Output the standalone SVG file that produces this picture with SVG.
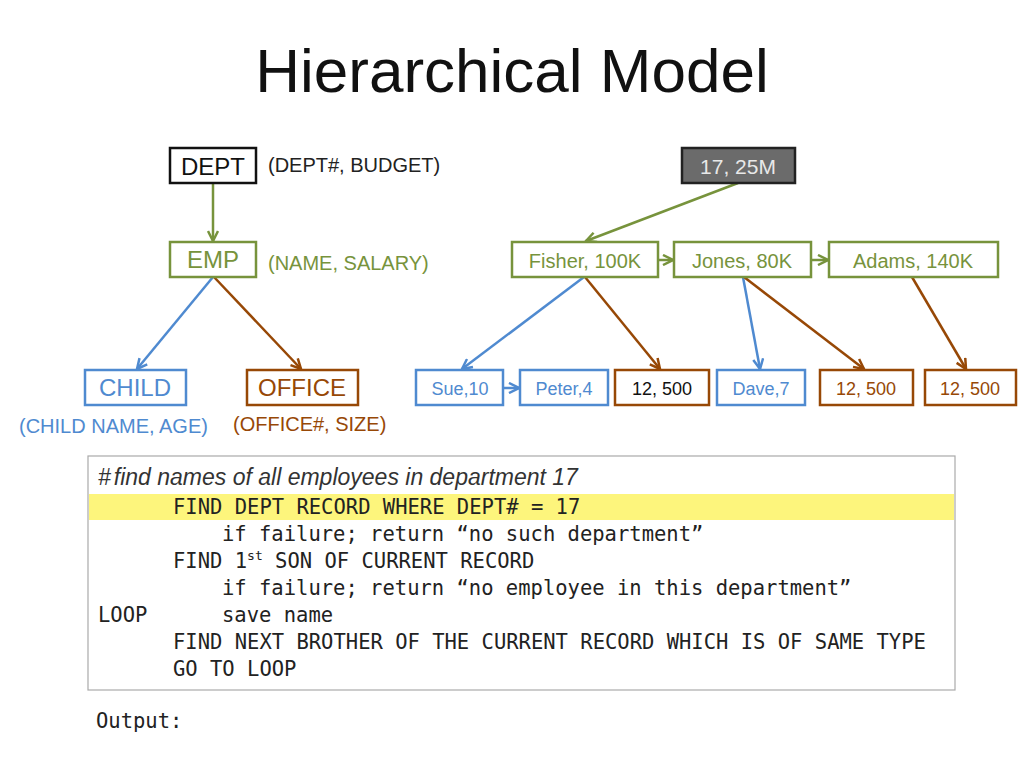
<svg xmlns="http://www.w3.org/2000/svg" width="1024" height="768" viewBox="0 0 1024 768">
<defs>
<style>
text{font-family:"Liberation Sans",Arial,sans-serif}
.g{stroke:#77933c;fill:none;stroke-width:2.5}
.b{stroke:#4f8ad0;fill:none;stroke-width:2.5}
.r{stroke:#974806;fill:none;stroke-width:2.5}
.box{fill:#fff;stroke-width:2.5}
.gt{fill:#77933c}.bt{fill:#4f8ad0}.rt{fill:#974806}
.m{font-family:"DejaVu Sans Mono",monospace;font-size:20.5px;fill:#222}
</style>
<marker id="ag" viewBox="0 0 10 10" refX="9" refY="5" markerWidth="5" markerHeight="5" orient="auto"><path d="M1,1 L9,5 L1,9" fill="none" stroke="#77933c" stroke-width="2"/></marker>
<marker id="ab" viewBox="0 0 10 10" refX="9" refY="5" markerWidth="5" markerHeight="5" orient="auto"><path d="M1,1 L9,5 L1,9" fill="none" stroke="#4f8ad0" stroke-width="2"/></marker>
<marker id="ar" viewBox="0 0 10 10" refX="9" refY="5" markerWidth="5" markerHeight="5" orient="auto"><path d="M1,1 L9,5 L1,9" fill="none" stroke="#974806" stroke-width="2"/></marker>
</defs>
<rect width="1024" height="768" fill="#fff"/>
<text x="512" y="92" text-anchor="middle" font-size="62" fill="#111">Hierarchical Model</text>

<g id="connectors">
<line class="g" x1="213" y1="183" x2="213" y2="241" marker-end="url(#ag)"/>
<line class="b" x1="213" y1="277" x2="137" y2="369" marker-end="url(#ab)"/>
<line class="r" x1="214" y1="277" x2="301" y2="369" marker-end="url(#ar)"/>
<line class="g" x1="738" y1="183" x2="586" y2="241" marker-end="url(#ag)"/>
<line class="g" x1="658" y1="260" x2="673" y2="260" marker-end="url(#ag)"/>
<line class="g" x1="811" y1="260" x2="828" y2="260" marker-end="url(#ag)"/>
<line class="b" x1="584" y1="277" x2="462" y2="369" marker-end="url(#ab)"/>
<line class="r" x1="585" y1="277" x2="660" y2="369" marker-end="url(#ar)"/>
<line class="b" x1="743" y1="277" x2="760" y2="369" marker-end="url(#ab)"/>
<line class="r" x1="744" y1="277" x2="864" y2="369" marker-end="url(#ar)"/>
<line class="r" x1="912" y1="277" x2="966" y2="369" marker-end="url(#ar)"/>
<line class="b" x1="503" y1="388" x2="519" y2="388" marker-end="url(#ab)"/>
</g>

<g id="dept"><rect class="box" x="170" y="148" width="86" height="35" stroke="#111"/><text x="213" y="175" text-anchor="middle" font-size="24" fill="#111">DEPT</text></g>
<text x="268" y="172" font-size="20" fill="#222">(DEPT#, BUDGET)</text>
<g id="emp"><rect class="box" x="170" y="242" width="86" height="35" stroke="#77933c"/><text x="213" y="268" text-anchor="middle" font-size="24" class="gt">EMP</text></g>
<text x="268" y="270" font-size="20" class="gt">(NAME, SALARY)</text>
<g id="child"><rect class="box" x="85" y="370" width="101" height="35" stroke="#4f8ad0"/><text x="135" y="396" text-anchor="middle" font-size="24" class="bt">CHILD</text></g>
<text x="19" y="433" font-size="20" class="bt">(CHILD NAME, AGE)</text>
<g id="office"><rect class="box" x="247" y="370" width="111" height="35" stroke="#974806"/><text x="302" y="396" text-anchor="middle" font-size="24" class="rt">OFFICE</text></g>
<text x="233" y="431" font-size="20" class="rt">(OFFICE#, SIZE)</text>

<g id="d17"><rect x="682" y="148" width="113" height="35" fill="#6b6b6b" stroke="#222" stroke-width="2.5"/><text x="738" y="174" text-anchor="middle" font-size="21" fill="#e8e8e8">17, 25M</text></g>
<g id="fisher"><rect class="box" x="512" y="242" width="146" height="35" stroke="#77933c"/><text x="585" y="268" text-anchor="middle" font-size="20" class="gt">Fisher, 100K</text></g>
<g id="jones"><rect class="box" x="674" y="242" width="137" height="35" stroke="#77933c"/><text x="742" y="268" text-anchor="middle" font-size="20" class="gt">Jones, 80K</text></g>
<g id="adams"><rect class="box" x="829" y="242" width="169" height="35" stroke="#77933c"/><text x="913" y="268" text-anchor="middle" font-size="20" class="gt">Adams, 140K</text></g>
<g id="sue"><rect class="box" x="416" y="370" width="87" height="35" stroke="#4f8ad0"/><text x="460" y="395" text-anchor="middle" font-size="18" class="bt">Sue,10</text></g>
<g id="peter"><rect class="box" x="520" y="370" width="88" height="35" stroke="#4f8ad0"/><text x="564" y="395" text-anchor="middle" font-size="18" class="bt">Peter,4</text></g>
<g id="o1"><rect class="box" x="615" y="370" width="94" height="35" stroke="#974806"/><text x="662" y="395" text-anchor="middle" font-size="18" fill="#111">12, 500</text></g>
<g id="dave"><rect class="box" x="717" y="370" width="88" height="35" stroke="#4f8ad0"/><text x="761" y="395" text-anchor="middle" font-size="18" class="bt">Dave,7</text></g>
<g id="o2"><rect class="box" x="820" y="370" width="93" height="35" stroke="#974806"/><text x="866" y="395" text-anchor="middle" font-size="18" class="rt">12, 500</text></g>
<g id="o3"><rect class="box" x="925" y="370" width="91" height="35" stroke="#974806"/><text x="970" y="395" text-anchor="middle" font-size="18" class="rt">12, 500</text></g>

<g id="code">
<rect x="88" y="456" width="867" height="234" fill="#fff" stroke="#aaa" stroke-width="1.2"/>
<rect x="89" y="494" width="865" height="26" fill="#fdf57c"/>
<text x="98" y="485" font-family="Liberation Serif,serif" font-style="italic" font-size="23" fill="#333">#<tspan dx="3">find names of all employees in department 17</tspan></text>
<text class="m" x="173" y="514">FIND DEPT RECORD WHERE DEPT# = 17</text>
<text class="m" x="222" y="541">if failure; return “no such department”</text>
<text class="m" x="173" y="568">FIND 1<tspan font-size="13" dy="-8">st</tspan><tspan dy="8"> SON OF CURRENT RECORD</tspan></text>
<text class="m" x="222" y="595">if failure; return “no employee in this department”</text>
<text class="m" x="98" y="622">LOOP</text>
<text class="m" x="222" y="622">save name</text>
<text class="m" x="173" y="649">FIND NEXT BROTHER OF THE CURRENT RECORD WHICH IS OF SAME TYPE</text>
<text class="m" x="173" y="676">GO TO LOOP</text>
</g>
<text class="m" x="96" y="728">Output:</text>
</svg>
